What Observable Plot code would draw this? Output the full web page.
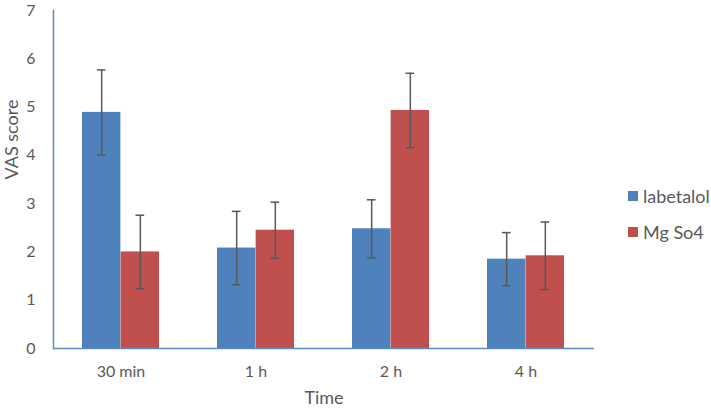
<!DOCTYPE html>
<html>
<head>
<meta charset="utf-8">
<script src="https://cdn.jsdelivr.net/npm/d3@7"></script>
<script src="https://cdn.jsdelivr.net/npm/@observablehq/plot@0.6"></script>
<style>
  html, body { margin: 0; padding: 0; background: #fff; }
  #wrap { position: relative; width: 711px; height: 410px; font-family: Lato, "Open Sans", sans-serif; }
  #legend { position: absolute; left: 628px; top: 178px; color: #595959; font-size: 18px; }
  .item { display: flex; align-items: center; height: 36px; }
  .sw { width: 10px; height: 10px; margin-right: 5px; }
</style>
</head>
<body>
<div id="wrap"></div>
<script>
const categories = ["30 min", "1 h", "2 h", "4 h"];
const series = ["labetalol", "Mg So4"];
const labetalol = [4.89, 2.08, 2.48, 1.85];
const mgSo4 = [2.00, 2.45, 4.93, 1.92];
const labetalolErr = [0.88, 0.76, 0.60, 0.55];
const mgSo4Err = [0.76, 0.58, 0.77, 0.70];
const yTicks = [0, 1, 2, 3, 4, 5, 6, 7];
const colors = ["#4F81BD", "#C0504D"];

const rowsL = categories.map((c, i) => ({cat: c, series: series[0], value: labetalol[i], lo: labetalol[i] - labetalolErr[i], hi: labetalol[i] + labetalolErr[i]}));
const rowsM = categories.map((c, i) => ({cat: c, series: series[1], value: mgSo4[i], lo: mgSo4[i] - mgSo4Err[i], hi: mgSo4[i] + mgSo4Err[i]}));

const W = 711, H = 410, mL = 53, mR = 117, mT = 10, mB = 62;
const pI = 0.4286, pO = pI / 2;
const step = (W - mL - mR) / (categories.length - pI + 2 * pO);
const bw = step * (1 - pI);
const cap = 9;
const axisBlue = "#5B8BC9";
const errColor = "#595959";

const chart = Plot.plot({
  width: W, height: H,
  marginLeft: mL, marginRight: mR, marginTop: mT, marginBottom: mB,
  style: {fontFamily: "Lato, 'Open Sans', sans-serif", fontSize: "16px", color: "#595959", background: "white", overflow: "visible"},
  x: {type: "band", domain: categories, paddingInner: pI, paddingOuter: pO},
  y: {domain: [0, 7]},
  color: {domain: series, range: colors},
  marks: [
    Plot.barY(rowsL, {x: "cat", y: "value", fill: "series", insetLeft: 0, insetRight: bw / 2}),
    Plot.barY(rowsM, {x: "cat", y: "value", fill: "series", insetLeft: bw / 2, insetRight: 0}),
    Plot.ruleX(rowsL, {x: "cat", y1: "lo", y2: "hi", dx: -bw / 4, stroke: errColor, strokeWidth: 1.5}),
    Plot.ruleX(rowsM, {x: "cat", y1: "lo", y2: "hi", dx: bw / 4, stroke: errColor, strokeWidth: 1.5}),
    Plot.tickY(rowsL, {x: "cat", y: "hi", insetLeft: bw / 4 - cap / 2, insetRight: 3 * bw / 4 - cap / 2, stroke: errColor, strokeWidth: 1.5}),
    Plot.tickY(rowsL, {x: "cat", y: "lo", insetLeft: bw / 4 - cap / 2, insetRight: 3 * bw / 4 - cap / 2, stroke: errColor, strokeWidth: 1.5}),
    Plot.tickY(rowsM, {x: "cat", y: "hi", insetLeft: 3 * bw / 4 - cap / 2, insetRight: bw / 4 - cap / 2, stroke: errColor, strokeWidth: 1.5}),
    Plot.tickY(rowsM, {x: "cat", y: "lo", insetLeft: 3 * bw / 4 - cap / 2, insetRight: bw / 4 - cap / 2, stroke: errColor, strokeWidth: 1.5}),
    Plot.ruleY([0], {stroke: axisBlue, strokeWidth: 1.5}),
    Plot.frame({anchor: "left", stroke: axisBlue, strokeWidth: 1.5}),
    Plot.axisY({ticks: yTicks, tickSize: 0, tickPadding: 18, label: null, fontSize: 16, tickFormat: d => String(d)}),
    Plot.axisX({tickSize: 0, tickPadding: 17, label: null, fontSize: 16}),
    Plot.text(["Time"], {frameAnchor: "bottom", dy: 55, fontSize: 18, fill: "#595959"}),
    Plot.text(["VAS score"], {frameAnchor: "left", rotate: -90, dx: -41, fontSize: 18, fill: "#595959"})
  ]
});

const wrap = document.getElementById("wrap");
wrap.appendChild(chart);
const legend = document.createElement("div");
legend.id = "legend";
series.forEach((s, i) => {
  const item = document.createElement("div");
  item.className = "item";
  const sw = document.createElement("span");
  sw.className = "sw";
  sw.style.background = colors[i];
  const t = document.createElement("span");
  t.textContent = s;
  item.appendChild(sw);
  item.appendChild(t);
  legend.appendChild(item);
});
wrap.appendChild(legend);
</script>
</body>
</html>
